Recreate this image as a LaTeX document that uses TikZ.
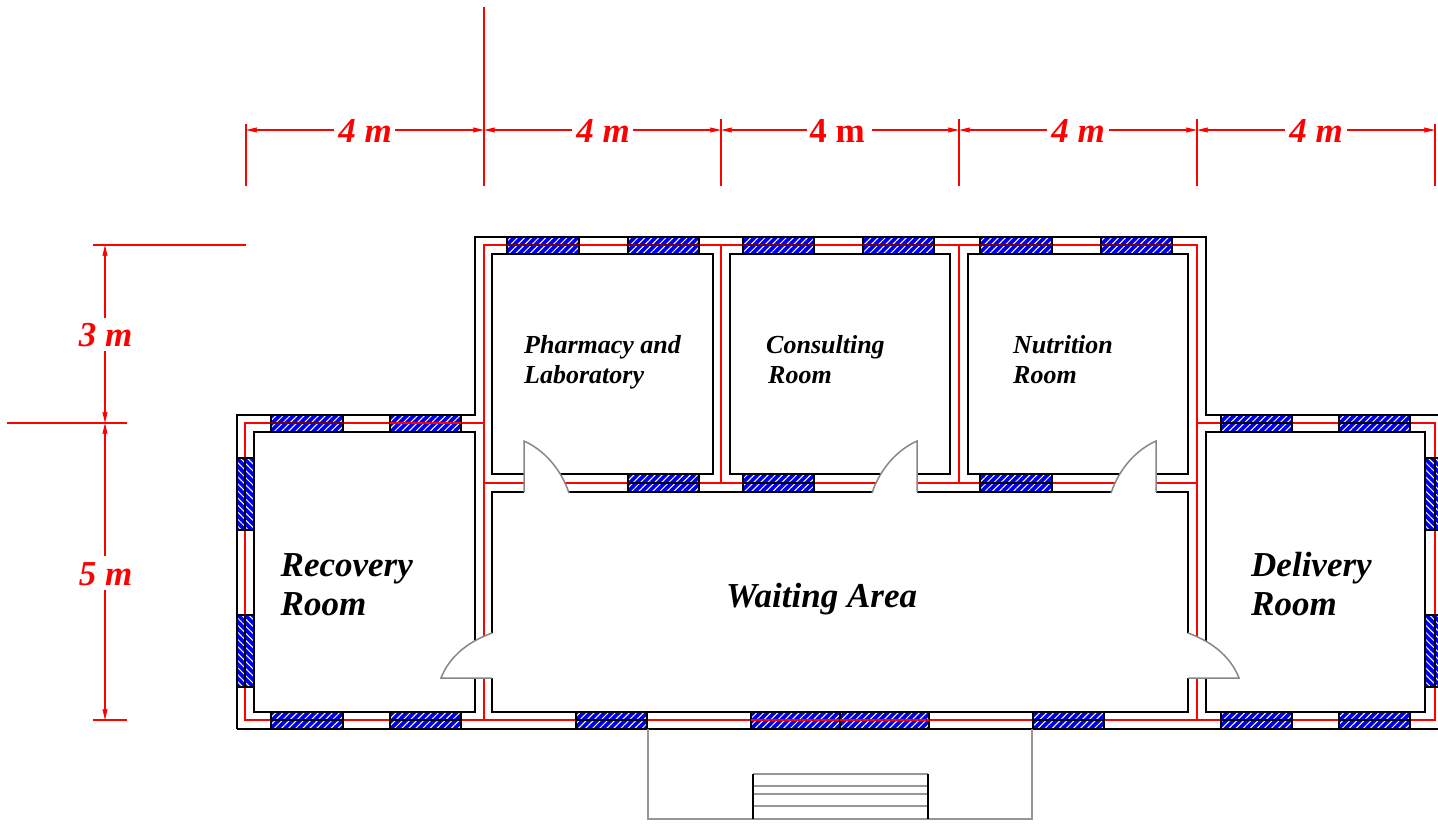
\documentclass[tikz,border=0pt]{standalone}
\usepackage{fontspec}
\setmainfont{Liberation Serif}
\usetikzlibrary{patterns.meta,arrows.meta}
\definecolor{glassblue}{RGB}{0,0,240}
\definecolor{doorgrey}{RGB}{135,135,135}
\definecolor{stepgrey}{RGB}{150,150,150}
\definecolor{maroonline}{RGB}{110,0,20}
\tikzset{
  wall/.style={draw=black,line width=1.6pt,line join=miter},
  pipe/.style={draw=red,line width=1.4pt},
  hatchh/.style={pattern={Lines[angle=45,distance=5pt,line width=1pt]},pattern color=white},
  hatchv/.style={pattern={Lines[angle=-45,distance=5pt,line width=1pt]},pattern color=white},
  door/.style={draw=doorgrey,line width=1.5pt},
  stepline/.style={draw=stepgrey,line width=1.4pt},
  dimline/.style={draw=red,line width=1.4pt},
  dimtext/.style={text=red,font=\fontsize{35}{35}\selectfont\bfseries\itshape,inner sep=0pt,anchor=base},
  dimplain/.style={text=red,font=\fontsize{35}{35}\selectfont\bfseries,inner sep=0pt,anchor=base},
  roomlarge/.style={text=black,font=\fontsize{35}{35}\selectfont\bfseries\itshape,inner sep=0pt,anchor=base west},
  roomsmall/.style={text=black,font=\fontsize{26}{26}\selectfont\bfseries\itshape,inner sep=0pt,anchor=base west}
}
\begin{document}
\begin{tikzpicture}[x=1pt,y=-1pt]
\useasboundingbox (0,0) rectangle (1438,826);
\clip (0,0) rectangle (1438,826);
\fill[white] (0,0) rectangle (1438,826);

% walls
\draw[wall] (237,729) -- (237,415) -- (475,415) -- (475,237) -- (1206,237) -- (1206,415) -- (1450,415);
\draw[wall] (237,729) -- (1450,729);
\draw[wall] (254,432) rectangle (475,712);
\draw[wall] (492,254) rectangle (713,474);
\draw[wall] (730,254) rectangle (950,474);
\draw[wall] (968,254) rectangle (1188,474);
\draw[wall] (492,492) rectangle (1188,712);
\draw[wall] (1206,432) rectangle (1425,712);

% service lines
\draw[pipe] (245,720) -- (245,423) -- (484,423) -- (484,245) -- (1197,245) -- (1197,423) -- (1435,423) -- (1435,720) -- cycle;
\draw[pipe] (484,423) -- (484,720);
\draw[pipe] (1197,423) -- (1197,720);
\draw[pipe] (721,245) -- (721,483);
\draw[pipe] (959,245) -- (959,483);
\draw[pipe] (484,483) -- (1197,483);

% horizontal windows
\foreach \xa/\xb/\ya/\yb/\ym/\midc in {
  507/579/237/254/245/maroonline, 628/699/237/254/245/maroonline,
  743/814/237/254/245/maroonline, 863/934/237/254/245/maroonline,
  980/1052/237/254/245/maroonline, 1101/1172/237/254/245/maroonline,
  271/343/415/432/423/maroonline, 390/461/415/432/423/red,
  1221/1292/415/432/423/black, 1339/1410/415/432/423/black,
  628/699/474/492/483/black, 743/814/474/492/483/black, 980/1052/474/492/483/black,
  271/343/712/729/720/black, 390/461/712/729/720/black, 576/647/712/729/720/black,
  1033/1104/712/729/720/black, 1221/1292/712/729/720/black, 1339/1410/712/729/720/black,
  751/840/712/729/720/red, 840/929/712/729/720/red}{
  \fill[glassblue] (\xa,\ya) rectangle (\xb,\yb);
  \fill[hatchh] (\xa,\ya) rectangle (\xb,\yb);
  \draw[draw=black,line width=1.5pt] (\xa,\ya) rectangle (\xb,\yb);
  \draw[draw=\midc,line width=1.3pt] (\xa,\ym) -- (\xb,\ym);
}
% vertical windows
\foreach \xa/\xb/\xm/\ya/\yb in {237/254/245/458/530, 237/254/245/615/687, 1425/1445/1435/458/530, 1425/1445/1435/615/687}{
  \fill[glassblue] (\xa,\ya) rectangle (\xb,\yb);
  \fill[hatchv] (\xa,\ya) rectangle (\xb,\yb);
  \draw[draw=black,line width=1.5pt] (\xa,\ya) rectangle (\xb,\yb);
  \draw[draw=black,line width=1.3pt] (\xm,\ya) -- (\xm,\yb);
}

% doors
\foreach \cx/\sx in {524/1, 917/-1, 1156/-1}{
  \fill[white] (\cx,441) .. controls (\cx+\sx*20,450) and (\cx+\sx*37,469) .. (\cx+\sx*45,493) -- (\cx,493) -- cycle;
  \draw[door] (\cx,492) -- (\cx,441) .. controls (\cx+\sx*20,450) and (\cx+\sx*37,469) .. (\cx+\sx*45,493);
}
\foreach \cx/\sx in {492/-1, 1188/1}{
  \fill[white] (\cx,633) .. controls (\cx+\sx*22,641) and (\cx+\sx*42,655) .. (\cx+\sx*51,678) -- (\cx-\sx*2,678) -- (\cx-\sx*2,634) -- cycle;
  \draw[door] (\cx,633) .. controls (\cx+\sx*22,641) and (\cx+\sx*42,655) .. (\cx+\sx*51,678) -- (\cx,678);
}

% steps
\draw[stepline] (648,729) -- (648,819) -- (1032,819) -- (1032,729);
\draw[stepline] (753,774) -- (928,774);
\draw[stepline] (753,786) -- (928,786);
\draw[stepline] (753,794) -- (928,794);
\draw[stepline] (753,806) -- (928,806);
\draw[draw=black,line width=1.4pt] (753,774) -- (753,819);
\draw[draw=black,line width=1.4pt] (928,774) -- (928,819);

% horizontal dimensions
\draw[dimline] (246,124) -- (246,186);
\draw[dimline] (484,7) -- (484,186);
\draw[dimline] (721,119) -- (721,186);
\draw[dimline] (959,119) -- (959,186);
\draw[dimline] (1197,119) -- (1197,186);
\draw[dimline] (1435,124) -- (1435,186);
\node[dimtext] (wa) at (365,142.5) {4 m};
\node[dimtext] (wb) at (603,142.5) {4 m};
\node[dimplain] (wc) at (837,142.5) {4 m};
\node[dimtext] (wd) at (1078,142.5) {4 m};
\node[dimtext] (we) at (1316,142.5) {4 m};
\foreach \l/\r/\p/\q in {246/484/334/395, 484/721/572/633, 721/959/807/872, 959/1197/1047/1109, 1197/1435/1285/1347}{
  \draw[dimline,{Stealth[length=11pt,width=5pt,inset=1pt]}-] (\l,130) -- (\p,130);
  \draw[dimline,-{Stealth[length=11pt,width=5pt,inset=1pt]}] (\q,130) -- (\r,130);
}

% vertical dimensions
\draw[dimline] (93,245) -- (246,245);
\draw[dimline] (7,423) -- (127,423);
\draw[dimline] (93,720) -- (127,720);
\node[dimtext] (ha) at (105.5,346.5) {3 m};
\node[dimtext] (hb) at (105.5,585) {5 m};
\draw[dimline,{Stealth[length=11pt,width=5pt,inset=1pt]}-] (105,245) -- (105,318);
\draw[dimline,-{Stealth[length=11pt,width=5pt,inset=1pt]}] (105,351) -- (105,423);
\draw[dimline,{Stealth[length=11pt,width=5pt,inset=1pt]}-] (105,423) -- (105,556);
\draw[dimline,-{Stealth[length=11pt,width=5pt,inset=1pt]}] (105,590) -- (105,720);

% room labels
\node[roomlarge] (rec1) at (280.5,576) {Recovery};
\node[roomlarge] (rec2) at (280.5,615) {Room};
\node[roomlarge] (wait) at (726,607) {Waiting Area};
\node[roomlarge] (del1) at (1251,576) {Delivery};
\node[roomlarge] (del2) at (1251,615) {Room};
\node[roomsmall] (ph1) at (524,353) {Pharmacy and};
\node[roomsmall] (ph2) at (524,383) {Laboratory};
\node[roomsmall] (co1) at (766,353) {Consulting};
\node[roomsmall] (co2) at (768,383) {Room};
\node[roomsmall] (nu1) at (1013,353) {Nutrition};
\node[roomsmall] (nu2) at (1013,383) {Room};
\end{tikzpicture}
\end{document}
